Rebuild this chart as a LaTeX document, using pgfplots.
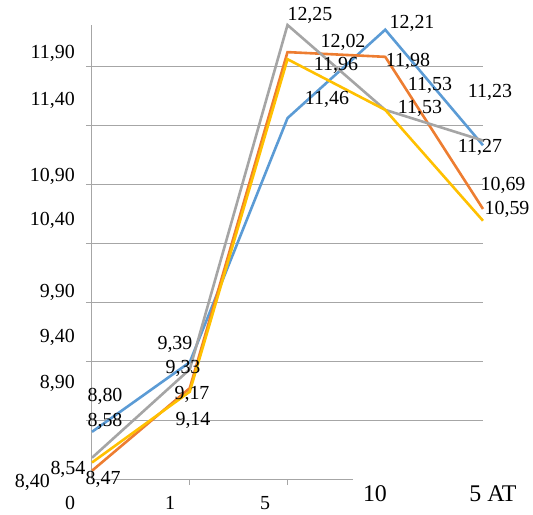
\documentclass[border=0pt]{standalone}
\usepackage{fontspec}
\setmainfont{Liberation Serif}
\usepackage{pgfplots}
\pgfplotsset{compat=1.18}
\definecolor{cblue}{HTML}{5B9BD5}
\definecolor{corange}{HTML}{ED7D31}
\definecolor{cgray}{HTML}{A5A5A5}
\definecolor{cyellow}{HTML}{FFC000}
\definecolor{gridc}{HTML}{A6A6A6}
\begin{document}
\fontsize{20}{24}\selectfont
\begin{tikzpicture}
\begin{axis}[
  at={(0,0)}, anchor=south west,
  scale only axis, width=391bp, height=454bp,
  xmin=0, xmax=4, ymin=8.4, ymax=12.25,
  axis x line*=bottom, axis y line*=left,
  x axis line style={draw=none},
  y axis line style={gridc, line width=1bp},
  xtick={1,2}, xticklabels={},
  ytick={8.9,9.4,9.9,10.4,10.9,11.4,11.9}, yticklabels={},
  tick align=outside, major tick length=6bp,
  tick style={gridc, line width=1bp},
  ymajorgrids, grid style={gridc, line width=1bp},
  clip=false,
  every axis plot/.append style={line width=2.6bp, mark=none},
  nodes={font=\fontsize{20}{24}\selectfont, inner sep=0pt},
]
\draw[gridc, line width=1bp] (axis cs:0,8.4) -- (axis cs:2.67,8.4);
\addplot[cblue] coordinates {(0,8.80) (1,9.39) (2,11.46) (3,12.21) (4,11.23)};
\addplot[corange] coordinates {(0,8.47) (1,9.17) (2,12.02) (3,11.98) (4,10.69)};
\addplot[cgray] coordinates {(0,8.58) (1,9.33) (2,12.25) (3,11.53) (4,11.27)};
\addplot[cyellow] coordinates {(0,8.54) (1,9.14) (2,11.96) (3,11.53) (4,10.59)};
% y labels
\node[anchor=east] at (axis cs:-0.174,12.01) {11,90};
\node[anchor=east] at (axis cs:-0.174,11.61) {11,40};
\node[anchor=east] at (axis cs:-0.174,10.97) {10,90};
\node[anchor=east] at (axis cs:-0.174,10.59) {10,40};
\node[anchor=east] at (axis cs:-0.174,9.98) {9,90};
\node[anchor=east] at (axis cs:-0.174,9.60) {9,40};
\node[anchor=east] at (axis cs:-0.174,9.21) {8,90};
\node[anchor=east] at (axis cs:-0.43,8.37) {8,40};
% x labels
\node at (axis cs:-0.225,8.197) {0};
\node at (axis cs:0.798,8.197) {1};
\node at (axis cs:1.770,8.197) {5};
\node[font=\fontsize{24}{28}\selectfont] at (axis cs:2.895,8.273) {10};
\node[font=\fontsize{24}{28}\selectfont] at (axis cs:4.102,8.273) {5 AT};
% data labels
\node at (axis cs:2.230,12.33) {12,25};
\node at (axis cs:2.568,12.10) {12,02};
\node at (axis cs:2.496,11.91) {11,96};
\node at (axis cs:2.404,11.62) {11,46};
\node at (axis cs:3.274,12.26) {12,21};
\node at (axis cs:3.233,11.94) {11,98};
\node at (axis cs:3.458,11.74) {11,53};
\node at (axis cs:3.355,11.54) {11,53};
\node at (axis cs:4.072,11.68) {11,23};
\node at (axis cs:3.969,11.21) {11,27};
\node at (axis cs:4.205,10.89) {10,69};
\node at (axis cs:4.246,10.69) {10,59};
\node at (axis cs:0.133,9.10) {8,80};
\node at (axis cs:0.133,8.89) {8,58};
\node at (axis cs:0.849,9.54) {9,39};
\node at (axis cs:0.931,9.34) {9,33};
\node at (axis cs:1.023,9.12) {9,17};
\node at (axis cs:1.033,8.90) {9,14};
\node at (axis cs:-0.246,8.48) {8,54};
\node at (axis cs:0.113,8.40) {8,47};
\end{axis}
\pgfresetboundingbox
\path[use as bounding box] (-92bp,-36bp) rectangle (441bp,479bp);
\end{tikzpicture}
\end{document}
